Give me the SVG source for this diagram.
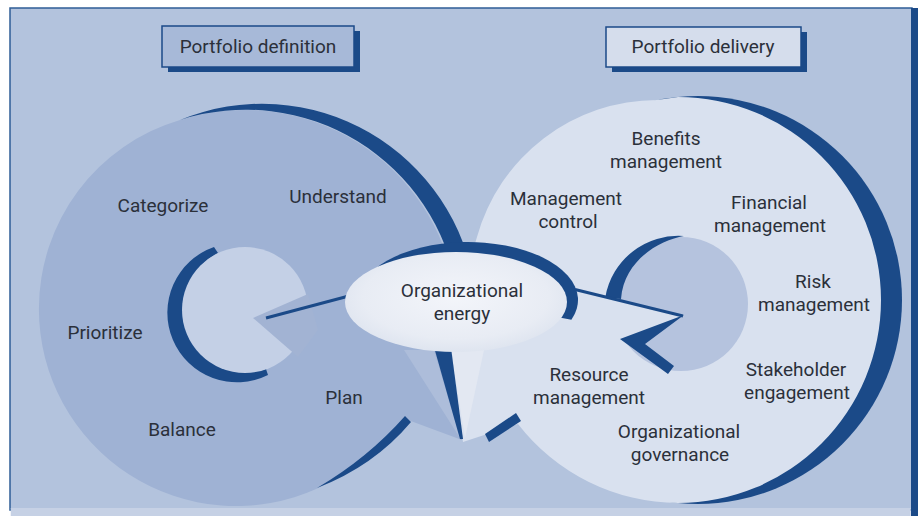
<svg xmlns="http://www.w3.org/2000/svg" width="918" height="516" viewBox="0 0 918 516">
<defs>
<style>
.lbl{font-family:Roboto,"Open Sans","Liberation Sans",sans-serif;font-size:19px;fill:#2b303a;text-anchor:middle}
.dark{fill:#1b4a88}
.conn{stroke:#1b4a88;stroke-width:3;fill:none;stroke-linecap:butt}
</style>
<radialGradient id="ellg" cx="0.5" cy="0.45" r="0.6">
<stop offset="0" stop-color="#f3f5fa"/>
<stop offset="0.7" stop-color="#e8ecf4"/>
<stop offset="1" stop-color="#dbe2ee"/>
</radialGradient>
</defs>

<g id="frame">
<rect x="0" y="0" width="918" height="516" fill="#ffffff"/>
<rect x="10" y="8" width="902" height="502" fill="#b3c3dd" stroke="#2f5e97" stroke-width="1.5"/>
<rect x="10.75" y="508" width="900" height="8" fill="#c6d1e5"/>
<rect x="911" y="8" width="7" height="508" fill="#1b4a88"/>
</g>

<g id="left-spiral">
<path d="M 462,440 L 452,340 L 455,290 A 212.8 212.8 0 0 0 180,120 A 197.1 197.1 0 0 0 38.9,309 A 197.1 197.1 0 0 0 317.3,488.5 Q 370,462 408,420 Z" fill="#9fb2d4"/>
<path d="M 404,350 L 434,350 L 460,438 Z" fill="#adbdda"/>
</g>

<g id="right-spiral">
<circle cx="698" cy="300" r="204" class="dark"/>
<path d="M 678,97 A 203 203 0 0 1 678,503 A 203 203 0 0 1 518,424 L 463,442 L 450,352 L 444,300 L 470,260 L 477,237 A 187 187 0 0 1 657,100 Z" fill="#d9e1ef"/>
<path d="M 451,350 L 484,350 L 465,438 Z" fill="#e3e8f2"/>
</g>

<g id="spiral-edges">
<path d="M 432,340 L 450,340 L 463,439 L 460,439 Z" class="dark"/>
<path d="M 485,434 L 489,442 L 521,421 L 516,413 Z" class="dark"/>
<path d="M 317,488 Q 368,458 405,416 L 411,422 Q 374,466 317,488 Z" class="dark"/>
<path d="M 180,120 A 215 215 0 0 1 475,290 L 457,290 A 214 214 0 0 0 180,120 Z" class="dark"/>
</g>

<g id="left-core">
<path d="M 214,247 A 69.6 69.6 0 1 0 268,375 L 266,369 A 63 63 0 0 1 218,253 Z" class="dark"/>
<circle cx="245" cy="310" r="63" fill="#c4d0e6"/>
<path d="M 253,318 L 308,294 L 318,330 L 298,357 Z" fill="#a2b3d3"/>
</g>

<g id="right-core">
<circle cx="681" cy="304" r="67" fill="#b5c3de"/>
<path d="M 605.3,297.4 A 74 74 0 0 1 684,236 C 660,240 624,260 621,299 Z" class="dark"/>
<path d="M 683,316 L 596,294.5 L 621,343 Z" fill="#d9e1ef"/>
<path d="M 684,315 L 620,339 L 668,374 L 674,366 L 645,344 Z" class="dark"/>
</g>

<g id="connectors">
<line x1="347" y1="296.5" x2="266" y2="318" class="conn"/>
<line x1="575" y1="289.5" x2="683" y2="316" class="conn"/>
</g>

<g id="organizational-energy">
<path d="M 364.6,280.2 A 110 58 0 0 1 571.4,319.8 Z" class="dark"/>
<ellipse cx="456" cy="302" rx="111" ry="50" fill="url(#ellg)"/>
<text class="lbl" x="462" y="297">Organizational<tspan x="462" dy="23">energy</tspan></text>
</g>

<g id="portfolio-definition">
<rect x="168" y="31" width="192" height="41" class="dark"/>
<rect x="162" y="26" width="192" height="41" fill="#a7b9d8" stroke="#1b4a88" stroke-width="1.5"/>
<text class="lbl" x="258" y="53">Portfolio definition</text>
</g>

<g id="portfolio-delivery">
<rect x="612" y="32" width="195" height="40" class="dark"/>
<rect x="606" y="27" width="195" height="40" fill="#d5ddec" stroke="#1b4a88" stroke-width="1.5"/>
<text class="lbl" x="703" y="53">Portfolio delivery</text>
</g>

<g id="understand"><text class="lbl" x="338" y="203">Understand</text></g>
<g id="categorize"><text class="lbl" x="163" y="212">Categorize</text></g>
<g id="prioritize"><text class="lbl" x="105" y="339">Prioritize</text></g>
<g id="balance"><text class="lbl" x="182" y="436">Balance</text></g>
<g id="plan"><text class="lbl" x="344" y="404">Plan</text></g>

<g id="benefits-management"><text class="lbl" x="666" y="145">Benefits<tspan x="666" dy="23">management</tspan></text></g>
<g id="management-control"><text class="lbl" x="566" y="205">Management<tspan x="568" dy="23">control</tspan></text></g>
<g id="financial-management"><text class="lbl" x="769" y="209">Financial<tspan x="770" dy="23">management</tspan></text></g>
<g id="risk-management"><text class="lbl" x="813" y="288">Risk<tspan x="814" dy="23">management</tspan></text></g>
<g id="resource-management"><text class="lbl" x="589" y="381">Resource<tspan x="589" dy="23">management</tspan></text></g>
<g id="stakeholder-engagement"><text class="lbl" x="796" y="376">Stakeholder<tspan x="797" dy="23">engagement</tspan></text></g>
<g id="organizational-governance"><text class="lbl" x="679" y="438">Organizational<tspan x="680" dy="23">governance</tspan></text></g>
</svg>
